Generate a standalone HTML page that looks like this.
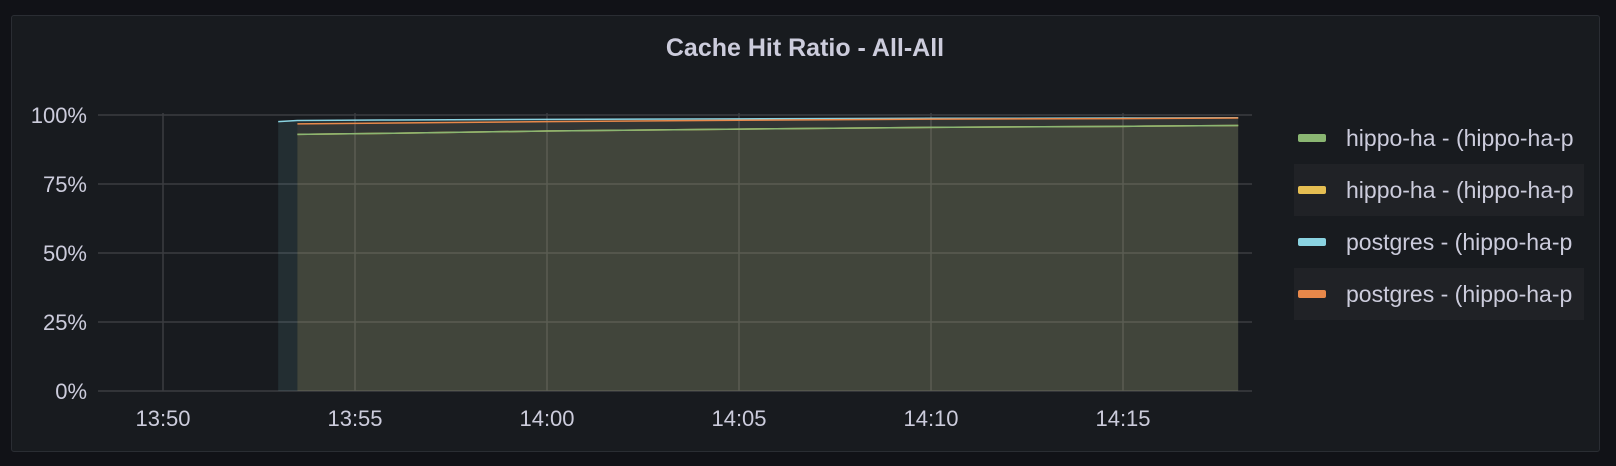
<!DOCTYPE html>
<html><head><meta charset="utf-8">
<style>
html,body{margin:0;padding:0;background:#111217;}
body{width:1616px;height:466px;overflow:hidden;position:relative;font-family:"Liberation Sans",sans-serif;}
#panel{position:absolute;left:11px;top:15px;width:1589px;height:437px;background:#181b1f;border:1px solid #2a2d33;border-radius:3px;box-sizing:border-box;}
svg{position:absolute;left:0;top:0;}
</style></head>
<body>
<div id="panel"></div>
<svg id="chart" width="1616" height="466"></svg>
<script>
const times = [53, 53.5, 56, 60, 65, 70, 75, 78]; // minutes after 13:00
const seriesNames = ["hippo-ha - (hippo-ha-p","hippo-ha - (hippo-ha-p","postgres - (hippo-ha-p","postgres - (hippo-ha-p"];
const seriesColors = ["#8ab672","#e5be52","#8ad3e1","#e8884a"];
const greenVals  = [null, 93.0, 93.4, 94.2, 94.9, 95.5, 95.9, 96.2];
const yellowVals = [null, 93.0, 93.4, 94.2, 94.9, 95.5, 95.9, 96.2];
const blueVals   = [97.6, 98.0, 98.2, 98.4, 98.6, 98.8, 98.9, 99.0];
const orangeVals = [null, 96.8, 97.1, 97.6, 98.1, 98.5, 98.7, 98.9];
const xTicks = [50,55,60,65,70,75];
const xTickLabels = ["13:50","13:55","14:00","14:05","14:10","14:15"];
const yTicks = [0,25,50,75,100];
const yTickLabels = ["0%","25%","50%","75%","100%"];

const NS="http://www.w3.org/2000/svg";
const svg=document.getElementById('chart');
const X0=98, X1=1252, Y0=391, Y1=115;
const x=m=>163+(m-50)*38.4;
const y=v=>Y0-(v/100)*(Y0-Y1);
function el(t,a,p){const e=document.createElementNS(NS,t);for(const k in a)e.setAttribute(k,a[k]);(p||svg).appendChild(e);return e;}

const title=el('text',{x:805,y:56,'text-anchor':'middle',fill:'#ccccdc','font-size':'25','font-weight':'bold'});
title.textContent="Cache Hit Ratio - All-All";



yTicks.forEach((t,i)=>{
  const g=el('line',{x1:X0,x2:X1,y1:y(t),y2:y(t),stroke:'#3b3d41','stroke-width':1.5});
  
  
  const l=el('text',{x:87,y:y(t)+8,'text-anchor':'end',fill:'#ccccdc','font-size':'22'});
  l.textContent=yTickLabels[i];
  
  
});
xTicks.forEach((t,i)=>{
  const g=el('line',{x1:x(t),x2:x(t),y1:Y1-2,y2:Y0,stroke:'#3b3d41','stroke-width':1.5});
  
  
  const l=el('text',{x:x(t),y:426,'text-anchor':'middle',fill:'#ccccdc','font-size':'22'});
  l.textContent=xTickLabels[i];
  
  
});

const allVals=[greenVals,yellowVals,blueVals,orangeVals];
const keys=['hippo-ha-1','hippo-ha-2','postgres-1','postgres-2'];
const fillOp=[0.08,0.05,0.1,0.08];
allVals.forEach((vals,si)=>{
  const pts=[];let first=null,last=null;
  vals.forEach((v,i)=>{if(v==null)return;if(first===null)first=i;last=i;pts.push(x(times[i])+','+y(v));});
  const d='M'+x(times[first])+','+Y0+' L'+pts.join(' L')+' L'+x(times[last])+','+Y0+' Z';
  const f=el('path',{d:d,fill:seriesColors[si],'fill-opacity':fillOp[si],stroke:'none'});
  
  
});
// draw order: yellow, blue, orange, green (green on top as in reference)
[1,2,3,0].forEach(si=>{
  const vals=allVals[si];
  const pts=[];
  vals.forEach((v,i)=>{if(v!=null)pts.push(x(times[i])+','+y(v));});
  const p=el('polyline',{points:pts.join(' '),fill:'none',stroke:seriesColors[si],'stroke-width':1.5});
  
  
});

seriesNames.forEach((n,i)=>{
  const cy=138+i*52;
  const g=el('g',{});
  
  
  if(i%2==1) el('rect',{x:1294,y:cy-26,width:290,height:52,fill:'#202226'},g);
  el('rect',{x:1298,y:cy-4,width:28,height:8,rx:2,fill:seriesColors[i]},g);
  const t=el('text',{x:1346,y:cy+8,fill:'#ccccdc','font-size':'23'},g);
  t.textContent=n;
});
</script>
</body></html>
